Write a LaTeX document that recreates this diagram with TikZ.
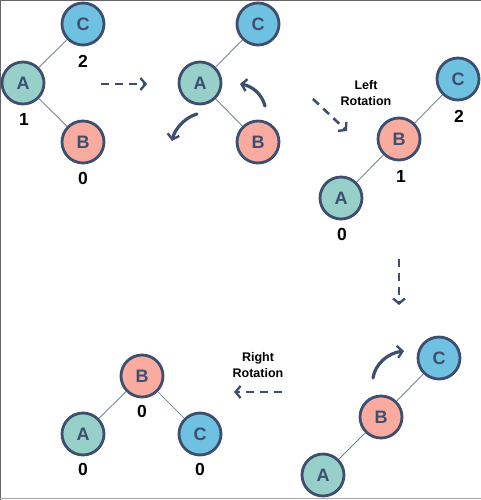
\documentclass[tikz,border=0pt]{standalone}
\usepackage{fontspec}
\setmainfont{Liberation Sans}
\usetikzlibrary{arrows.meta}
\definecolor{navy}{HTML}{3D4E6E}
\definecolor{cfill}{HTML}{6EC1E0}
\definecolor{afill}{HTML}{96D0C8}
\definecolor{bfill}{HTML}{F9ABA0}
\tikzset{
  nd/.style={circle, draw=navy, line width=2.8pt, minimum size=42pt, inner sep=0pt,
    font=\fontsize{18}{18}\selectfont\bfseries, text=navy},
  na/.style={nd, fill=afill},
  nb/.style={nd, fill=bfill},
  nc/.style={nd, fill=cfill},
  lbl/.style={font=\fontsize{17.5}{17.5}\selectfont\bfseries, text=black},
  captxt/.style={font=\fontsize{12.5}{15.5}\selectfont\bfseries, text=black, align=center},
  link/.style={draw=navy!80, line width=0.7pt},
  dasharr/.style={draw=navy, line width=2.6pt, dash pattern=on 8pt off 6pt, -{Straight Barb[length=5pt,width=12pt,line width=2.4pt]}},
  curv/.style={draw=navy, line width=3.2pt, line cap=round, -{Straight Barb[length=5pt,width=12pt,line width=2.4pt]}},
}
\begin{document}
\begin{tikzpicture}[x=1pt,y=-1pt]
\useasboundingbox (0,0) rectangle (481,500);
\draw[gray!80!black, line width=1.2pt] (0.6,500) -- (0.6,0.6) -- (481,0.6);
\draw[gray!70, line width=1.2pt] (0,498.5) -- (481,498.5);
% panel 1
\node[nc] (c1) at (83,24) {C};
\node[na] (a1) at (23,83) {A};
\node[nb] (b1) at (83,142) {B};
\draw[link] (a1) -- (c1);
\draw[link] (a1) -- (b1);
\node[lbl] (l1c) at (83,61) {2};
\node[lbl] (l1a) at (24,119) {1};
\node[lbl] (l1b) at (83,178) {0};
\coordinate (d1s) at (101,84);
\coordinate (d1e) at (147,84);
\draw[dasharr] (d1s) -- (d1e);
% panel 2
\node[nc] (c2) at (258,24) {C};
\node[na] (a2) at (200,83) {A};
\node[nb] (b2) at (258,142) {B};
\draw[link] (a2) -- (c2);
\draw[link] (a2) -- (b2);
\coordinate (r1s) at (265,106);
\coordinate (r1e) at (240,84);
\draw[curv] (r1s) .. controls (262,94) and (252,86) .. (r1e);
\coordinate (r2s) at (197,114);
\coordinate (r2e) at (172,141);
\draw[curv] (r2s) .. controls (186,117) and (175,128) .. (r2e);
% arrow to panel 3
\coordinate (d2s) at (313,99);
\coordinate (d2e) at (347,131);
\draw[dasharr] (d2s) -- (d2e);
\node[captxt] (lr) at (366,93) {Left\\Rotation};
% panel 3
\node[nc] (c3) at (458,79) {C};
\node[nb] (b3) at (399,139) {B};
\node[na] (a3) at (341,198) {A};
\draw[link] (a3) -- (b3);
\draw[link] (b3) -- (c3);
\node[lbl] (l3c) at (459,116) {2};
\node[lbl] (l3b) at (401,176) {1};
\node[lbl] (l3a) at (342,234) {0};
% down arrow
\coordinate (d3s) at (399,259);
\coordinate (d3e) at (399,305);
\draw[dasharr] (d3s) -- (d3e);
% panel 4
\node[nc] (c4) at (439,358) {C};
\node[nb] (b4) at (381,417) {B};
\node[na] (a4) at (323,475) {A};
\draw[link] (a4) -- (b4);
\draw[link] (b4) -- (c4);
\coordinate (r3s) at (373,378);
\coordinate (r3e) at (404,351);
\draw[curv] (r3s) .. controls (375,364) and (388,353) .. (r3e);
% arrow to panel 5
\coordinate (d4s) at (282,392);
\coordinate (d4e) at (234,392);
\draw[dasharr] (d4s) -- (d4e);
\node[captxt] (rr) at (258,365) {Right\\Rotation};
% panel 5
\node[nb] (b5) at (142,376) {B};
\node[na] (a5) at (83,434) {A};
\node[nc] (c5) at (200,434) {C};
\draw[link] (b5) -- (a5);
\draw[link] (b5) -- (c5);
\node[lbl] (l5b) at (142,411) {0};
\node[lbl] (l5a) at (83,469) {0};
\node[lbl] (l5c) at (200,469) {0};
\end{tikzpicture}
\end{document}
